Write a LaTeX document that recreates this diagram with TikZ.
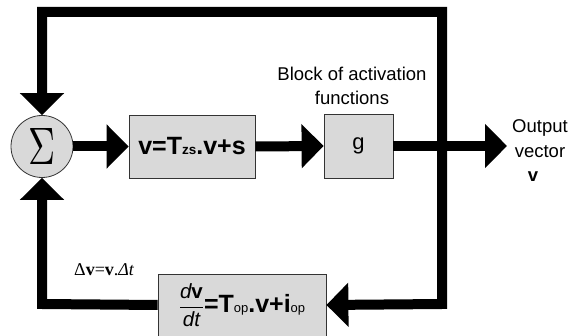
\documentclass[tikz,border=0pt]{standalone}
\usepackage{fontspec}
\usepackage{amsmath}
\setmainfont{Liberation Sans}
\newfontfamily\serifft{Liberation Serif}
\usetikzlibrary{arrows.meta}
\begin{document}
\begin{tikzpicture}[x=1pt,y=-1pt,
  blk/.style={draw=black!80,line width=0.8pt,fill=black!15,inner sep=0pt},
  flow/.style={line width=10pt,line join=miter,-{Triangle[width=43pt,length=22pt]}},
  both/.style={line width=10pt,line join=miter,{Triangle[width=43pt,length=22pt]}-{Triangle[width=43pt,length=22pt]}},
  lbl/.style={inner sep=0pt,font=\fontsize{18.5}{24.5}\selectfont,align=center}]
\useasboundingbox (0,0) rectangle (568,336);
% blocks
\node[circle,blk,minimum size=62pt] (sum) at (42,146.5) {\resizebox{27pt}{36pt}{$\Sigma$}};
\node[blk,minimum width=126pt,minimum height=63pt] (b1) at (192,146.5)
  {\fontsize{25}{25}\selectfont\bfseries v=T{\fontsize{13.5}{14}\selectfont zs}.v+s};
\node[blk,minimum width=69pt,minimum height=64pt] (g) at (358.5,146)
  {\fontsize{22}{22}\selectfont g};
\node[blk,minimum width=168pt,minimum height=62pt] (b3) at (242,305)
  {{\fontsize{20.5}{20}\selectfont$\dfrac{\text{\itshape d\upshape\bfseries v}}{\text{\itshape dt}}$}{\fontsize{25}{25}\selectfont\bfseries =T{\fontsize{13}{13}\selectfont\mdseries op}.v+i{\fontsize{13}{13}\selectfont\mdseries op}}};
% labels
\node[lbl] (act) at (352,86) {Block of activation\\functions};
\node[lbl] (outl) at (540,151) {Output\\vector\\\bfseries v\hspace*{14pt}};
\node[inner sep=0pt,anchor=base west] (dl) at (74,276)
  {\fontsize{18}{18}\selectfont\serifft Δ\textbf{v}=\textbf{v}.\textit{Δt}};
% connector points
\coordinate (out) at (507,146);
\coordinate (br) at (442,304);
\coordinate (tr) at (442,12);
\coordinate (tl) at (42,12);
\coordinate (bl) at (42,304);
% connectors
\draw[flow] (sum.east) -- (b1.west);
\draw[flow] (b1.east) -- (g.west);
\draw[flow] (g.east) -- (out);
\draw[both] (b3.east) -- (br) -- (tr) -- (tl) -- (sum.north);
\draw[flow] (b3.west) -- (bl) -- (sum.south);
\end{tikzpicture}
\end{document}
